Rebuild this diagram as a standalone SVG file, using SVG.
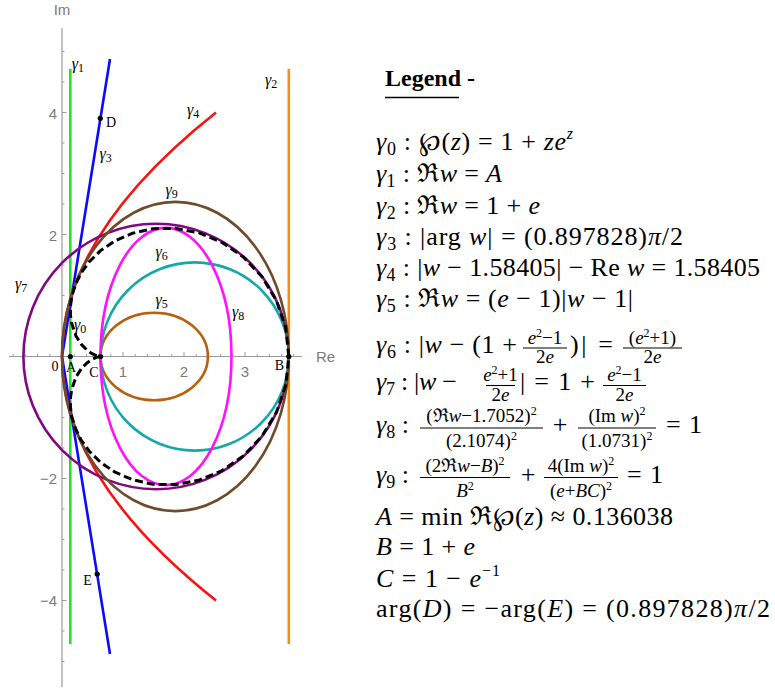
<svg xmlns="http://www.w3.org/2000/svg" width="775" height="691" viewBox="0 0 775 691">
<style>
.ax{stroke:#9a9a9a;stroke-width:1.2;fill:none}
.tk{stroke:#9a9a9a;stroke-width:1;fill:none}
.tl{font-family:"Liberation Sans","DejaVu Sans",sans-serif;font-size:15px;fill:#7a7a7a}
.cv{fill:none;stroke-width:2.6}
.pl{font-family:"Liberation Serif","DejaVu Serif",serif;font-size:14px;fill:#000}
.gl{font-family:"Liberation Serif","DejaVu Serif",serif;font-size:16px;fill:#000;font-style:italic}
.gs{font-size:12px;font-style:normal}
.lg{font-family:"Liberation Serif","DejaVu Serif",serif;font-size:26px;fill:#000}
.tt{font-family:"Liberation Serif","DejaVu Serif",serif;font-size:24px;fill:#000;font-weight:bold}
.fr{font-family:"Liberation Serif","DejaVu Serif",serif;font-size:19px;fill:#000;text-anchor:middle}
.i{font-style:italic}
.sb{font-size:18px;font-style:normal}
.sp{font-size:16px}
.s2{font-size:12px}
.bar{stroke:#000;stroke-width:1.1}
.dot{fill:#000}
</style>
<g id="axes">
<line class="ax" x1="9" y1="356.5" x2="302" y2="356.5"/>
<line class="ax" x1="62" y1="28" x2="62" y2="687"/>
<path class="tk" d="M13.2,356.5v-2.5M25.4,356.5v-2.5M37.6,356.5v-2.5M49.8,356.5v-2.5M74.2,356.5v-2.5M86.4,356.5v-2.5M98.6,356.5v-2.5M110.8,356.5v-2.5M123,356.5v-4.5M135.2,356.5v-2.5M147.4,356.5v-2.5M159.6,356.5v-2.5M171.8,356.5v-2.5M184,356.5v-4.5M196.2,356.5v-2.5M208.4,356.5v-2.5M220.6,356.5v-2.5M232.8,356.5v-2.5M245,356.5v-4.5M257.2,356.5v-2.5M269.4,356.5v-2.5M281.6,356.5v-2.5M293.8,356.5v-2.5"/>
<path class="tk" d="M62,51.5h2.5M62,82h2.5M62,112.5h4.5M62,143h2.5M62,173.5h2.5M62,204h2.5M62,234.5h4.5M62,265h2.5M62,295.5h2.5M62,326h2.5M62,387h2.5M62,417.5h2.5M62,448h2.5M62,478.5h4.5M62,509h2.5M62,539.5h2.5M62,570h2.5M62,600.5h4.5M62,631h2.5M62,661.5h2.5"/>
<text class="tl" x="123" y="377" text-anchor="middle">1</text>
<text class="tl" x="184" y="377" text-anchor="middle">2</text>
<text class="tl" x="245" y="377" text-anchor="middle">3</text>
<text class="tl" x="57" y="119" text-anchor="end">4</text>
<text class="tl" x="57" y="241" text-anchor="end">2</text>
<text class="tl" x="57" y="484" text-anchor="end">−2</text>
<text class="tl" x="57" y="606" text-anchor="end">−4</text>
<text class="tl" x="62" y="15" text-anchor="middle">Im</text>
<text class="tl" x="316" y="362">Re</text>
</g>
<g id="connectors">
<line id="g1" class="cv" stroke="#1ee61e" x1="70.3" y1="69" x2="70.3" y2="644"/>
<line id="g2" class="cv" stroke="#ff8a14" x1="288.8" y1="69" x2="288.8" y2="644"/>
<path id="g3" class="cv" stroke="#0a0aff" d="M110,59L62,356.5L110,654"/>
<path id="g4" class="cv" stroke="#ff1010" d="M216,112.5Q-92,356.5 216,600.5"/>
<ellipse id="g5" class="cv" stroke="#b5620f" cx="154.2" cy="356.5" rx="53.7" ry="43.7"/>
<circle id="g6" class="cv" stroke="#14a8a8" cx="194.7" cy="356.5" r="94.1"/>
<circle id="g7" class="cv" stroke="#800880" cx="156.1" cy="356.5" r="132.7"/>
<ellipse id="g8" class="cv" stroke="#ff10ff" cx="166" cy="356.5" rx="65.5" ry="128.6"/>
<ellipse id="g9" class="cv" stroke="#6e4b2a" cx="175.4" cy="356.5" rx="113.4" ry="154.6"/>
<polyline id="g0" fill="none" stroke="#000" stroke-width="3" stroke-dasharray="8,4" stroke-linejoin="round" points="288.8,356.5 285.7,327.8 276.5,300.8 262.0,276.8 243.3,257.0 221.6,242.2 198.5,232.7 175.1,228.3 152.9,228.7 132.7,233.2 115.1,240.8 100.6,250.6 89.2,261.8 80.8,273.5 75.2,285.2 71.8,296.3 70.4,306.5 70.5,315.6 71.7,323.5 76.0,336.0 81.4,344.4 86.6,349.8 91.1,353.1 94.7,354.9 97.3,355.9 99.2,356.3 100.6,356.5 99.2,356.7 97.3,357.1 94.7,358.1 91.1,359.9 86.6,363.2 81.4,368.6 76.0,377.0 71.7,389.5 70.5,397.4 70.4,406.5 71.8,416.7 75.2,427.8 80.8,439.5 89.2,451.2 100.6,462.4 115.1,472.2 132.7,479.8 152.9,484.3 175.1,484.7 198.5,480.3 221.6,470.8 243.3,456.0 262.0,436.2 276.5,412.2 285.7,385.2 288.8,356.5"/>
</g>
<g id="points">
<circle class="dot" cx="70.3" cy="356.5" r="2.6"/>
<circle class="dot" cx="100.6" cy="356.5" r="2.6"/>
<circle class="dot" cx="288.8" cy="356.5" r="2.6"/>
<circle class="dot" cx="100.3" cy="118.3" r="2.6"/>
<circle class="dot" cx="97.2" cy="574" r="2.6"/>
<text class="pl" x="55" y="371" text-anchor="middle">0</text>
<text class="pl" x="71" y="372" text-anchor="middle">A</text>
<text class="pl" x="94" y="377" text-anchor="middle">C</text>
<text class="pl" x="279.5" y="369.5" text-anchor="middle">B</text>
<text class="pl" x="106" y="127.3">D</text>
<text class="pl" x="83.3" y="585">E</text>
</g>
<g id="curve-labels">
<text class="gl" x="74" y="330">γ<tspan class="gs" dy="3">0</tspan></text>
<text class="gl" x="71.7" y="68.5">γ<tspan class="gs" dy="3">1</tspan></text>
<text class="gl" x="265" y="84.5">γ<tspan class="gs" dy="3">2</tspan></text>
<text class="gl" x="99.5" y="159">γ<tspan class="gs" dy="3">3</tspan></text>
<text class="gl" x="187" y="115">γ<tspan class="gs" dy="3">4</tspan></text>
<text class="gl" x="155.5" y="304.5">γ<tspan class="gs" dy="3">5</tspan></text>
<text class="gl" x="155.5" y="257">γ<tspan class="gs" dy="3">6</tspan></text>
<text class="gl" x="15" y="289">γ<tspan class="gs" dy="3">7</tspan></text>
<text class="gl" x="232" y="317">γ<tspan class="gs" dy="3">8</tspan></text>
<text class="gl" x="165.5" y="194.5">γ<tspan class="gs" dy="3">9</tspan></text>
</g>
<g id="legend">
<text class="tt" x="385" y="86">Legend -</text>
<line x1="385" y1="97.5" x2="459" y2="97.5" stroke="#000" stroke-width="1.6"/>
<text class="lg" x="376" y="150" textLength="197"><tspan class="i">γ</tspan><tspan class="sb" dy="5">0</tspan><tspan dy="-5"> : ℘(</tspan><tspan class="i">z</tspan>) = 1 + <tspan class="i">ze</tspan><tspan class="i sp" dy="-11">z</tspan></text>
<text class="lg" x="376" y="181.7" textLength="126"><tspan class="i">γ</tspan><tspan class="sb" dy="5">1</tspan><tspan dy="-5"> : ℜ</tspan><tspan class="i">w</tspan> = <tspan class="i">A</tspan></text>
<text class="lg" x="376" y="213.5" textLength="164"><tspan class="i">γ</tspan><tspan class="sb" dy="5">2</tspan><tspan dy="-5"> : ℜ</tspan><tspan class="i">w</tspan> = 1 + <tspan class="i">e</tspan></text>
<text class="lg" x="376" y="244.5" textLength="307"><tspan class="i">γ</tspan><tspan class="sb" dy="5">3</tspan><tspan dy="-5"> : |arg </tspan><tspan class="i">w</tspan>| = (0.897828)<tspan class="i">π</tspan>/2</text>
<text class="lg" x="376" y="275.5" textLength="384"><tspan class="i">γ</tspan><tspan class="sb" dy="5">4</tspan><tspan dy="-5"> : |</tspan><tspan class="i">w</tspan> − 1.58405| − Re <tspan class="i">w</tspan> = 1.58405</text>
<text class="lg" x="376" y="306.5" textLength="257"><tspan class="i">γ</tspan><tspan class="sb" dy="5">5</tspan><tspan dy="-5"> : ℜ</tspan><tspan class="i">w</tspan> = (<tspan class="i">e</tspan> − 1)|<tspan class="i">w</tspan> − 1|</text>

<text class="lg" x="376" y="352.5" textLength="141"><tspan class="i">γ</tspan><tspan class="sb" dy="5">6</tspan><tspan dy="-5"> : |</tspan><tspan class="i">w</tspan> − (1 +</text>
<line class="bar" x1="523" y1="348" x2="567" y2="348"/>
<text class="fr" x="545" y="343.5"><tspan class="i">e</tspan><tspan class="s2" dy="-7">2</tspan><tspan dy="7">−1</tspan></text>
<text class="fr" x="545" y="363">2<tspan class="i">e</tspan></text>
<text class="lg" x="570" y="352.5" textLength="43">)| =</text>
<line class="bar" x1="623" y1="348" x2="682" y2="348"/>
<text class="fr" x="652.5" y="343.5">(<tspan class="i">e</tspan><tspan class="s2" dy="-7">2</tspan><tspan dy="7">+1)</tspan></text>
<text class="fr" x="652.5" y="363">2<tspan class="i">e</tspan></text>

<text class="lg" x="376" y="390" textLength="81"><tspan class="i">γ</tspan><tspan class="sb" dy="5">7</tspan><tspan dy="-5"> : |</tspan><tspan class="i">w</tspan> −</text>
<line class="bar" x1="486" y1="385.5" x2="515" y2="385.5"/>
<text class="fr" x="500.5" y="381"><tspan class="i">e</tspan><tspan class="s2" dy="-7">2</tspan><tspan dy="7">+1</tspan></text>
<text class="fr" x="500.5" y="400.5">2<tspan class="i">e</tspan></text>
<text class="lg" x="520" y="390" textLength="75">| = 1 +</text>
<line class="bar" x1="603" y1="385.5" x2="646" y2="385.5"/>
<text class="fr" x="624.5" y="381"><tspan class="i">e</tspan><tspan class="s2" dy="-7">2</tspan><tspan dy="7">−1</tspan></text>
<text class="fr" x="624.5" y="400.5">2<tspan class="i">e</tspan></text>

<text class="lg" x="376" y="433.3"><tspan class="i">γ</tspan><tspan class="sb" dy="5">8</tspan><tspan dy="-5"> :</tspan></text>
<line class="bar" x1="420" y1="428" x2="543" y2="428"/>
<text class="fr" x="481.5" y="422">(ℜ<tspan class="i">w</tspan>−1.7052)<tspan class="s2" dy="-7">2</tspan></text>
<text class="fr" x="481.5" y="447">(2.1074)<tspan class="s2" dy="-7">2</tspan></text>
<text class="lg" x="560" y="433.3" text-anchor="middle">+</text>
<line class="bar" x1="578" y1="428" x2="656" y2="428"/>
<text class="fr" x="617" y="422">(Im <tspan class="i">w</tspan>)<tspan class="s2" dy="-7">2</tspan></text>
<text class="fr" x="617" y="447">(1.0731)<tspan class="s2" dy="-7">2</tspan></text>
<text class="lg" x="666" y="433.3" textLength="36">= 1</text>

<text class="lg" x="376" y="483.3"><tspan class="i">γ</tspan><tspan class="sb" dy="5">9</tspan><tspan dy="-5"> :</tspan></text>
<line class="bar" x1="420" y1="477.5" x2="510" y2="477.5"/>
<text class="fr" x="465" y="472">(2ℜ<tspan class="i">w</tspan>−<tspan class="i">B</tspan>)<tspan class="s2" dy="-7">2</tspan></text>
<text class="fr" x="465" y="497"><tspan class="i">B</tspan><tspan class="s2" dy="-7">2</tspan></text>
<text class="lg" x="528" y="483.3" text-anchor="middle">+</text>
<line class="bar" x1="544" y1="477.5" x2="618" y2="477.5"/>
<text class="fr" x="581" y="472">4(Im <tspan class="i">w</tspan>)<tspan class="s2" dy="-7">2</tspan></text>
<text class="fr" x="581" y="497">(<tspan class="i">e</tspan>+<tspan class="i">BC</tspan>)<tspan class="s2" dy="-7">2</tspan></text>
<text class="lg" x="627" y="483.3" textLength="36">= 1</text>

<text class="lg" x="376" y="525" textLength="297"><tspan class="i">A</tspan> = min ℜ℘(<tspan class="i">z</tspan>) ≈ 0.136038</text>
<text class="lg" x="376" y="555" textLength="99"><tspan class="i">B</tspan> = 1 + <tspan class="i">e</tspan></text>
<text class="lg" x="376" y="586.7" textLength="124"><tspan class="i">C</tspan> = 1 − <tspan class="i">e</tspan><tspan class="sp" dy="-11">−1</tspan></text>
<text class="lg" x="376" y="616.7" textLength="394">arg(<tspan class="i">D</tspan>) = −arg(<tspan class="i">E</tspan>) = (0.897828)<tspan class="i">π</tspan>/2</text>
</g>
</svg>
